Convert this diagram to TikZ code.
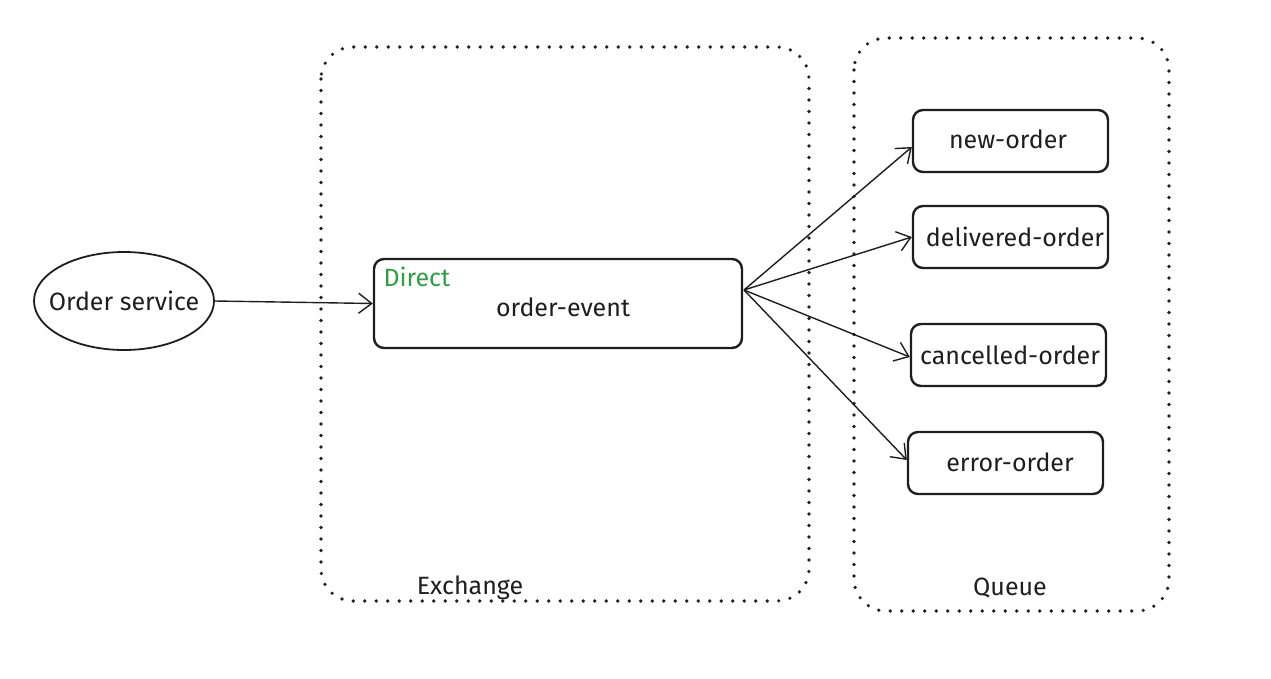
\documentclass[tikz,border=0pt]{standalone}
\usepackage{fontspec}
\setmainfont{Fira Sans}
\usetikzlibrary{arrows.meta,shapes.geometric}
\definecolor{exgreen}{HTML}{2F9E44}
\definecolor{ink}{HTML}{1E1E1E}
\begin{document}
\begin{tikzpicture}[x=1pt,y=-1pt,
  txt/.style={font=\fontsize{25}{28}\selectfont, text=ink},
  qbox/.style={draw=ink, line width=2.4pt, rounded corners=10pt, minimum width=195pt, minimum height=62pt, inner sep=0pt},
  group/.style={draw=ink, line width=3.6pt, line cap=round, dash pattern=on 0pt off 11.5pt, rounded corners=32pt},
  arr/.style={draw=ink, line width=1.4pt, -{Straight Barb[length=13pt,width=20pt,line width=1.4pt]}}
]
\useasboundingbox (0,0) rectangle (1271,679);
% groups
\draw[group] (321,47) rectangle (809,601);
\draw[group] (854,38) rectangle (1169,611);
\node[txt] (exl) at (470,588) {Exchange};
\node[txt] (ql) at (1010,588) {Queue};
% order service
\node[draw=ink, line width=1.8pt, ellipse, minimum width=180pt, minimum height=98pt, inner sep=0pt] (os) at (124,301) {};
\node[txt] (ost) at (124,301) {Order service};
% order-event
\node[qbox, minimum width=368pt, minimum height=89pt] (oe) at (558,303.5) {};
\node[txt] (oet) at (563,307) {order-event};
\node[txt, text=exgreen, anchor=west] (dir) at (380,277) {Direct};
% queues
\node[qbox] (q1) at (1010.5,141) {};
\node[txt] (q1t) at (1008,139) {new-order};
\node[qbox] (q2) at (1010.5,237) {};
\node[txt] (q2t) at (1015,237) {delivered-order};
\node[qbox] (q3) at (1008.5,355) {};
\node[txt] (q3t) at (1010,355) {cancelled-order};
\node[qbox] (q4) at (1005.5,463) {};
\node[txt] (q4t) at (1010,462) {error-order};
% connectors
\coordinate (src) at (744,290);
\draw[arr] (os.east) -- (oe.west);
\draw[arr] (src) -- ([yshift=-6pt]q1.west);
\draw[arr] (src) -- (q2.west);
\draw[arr] (src) -- ([yshift=-2pt]q3.west);
\draw[arr] (src) -- ([yshift=3pt]q4.west);
\end{tikzpicture}
\end{document}
